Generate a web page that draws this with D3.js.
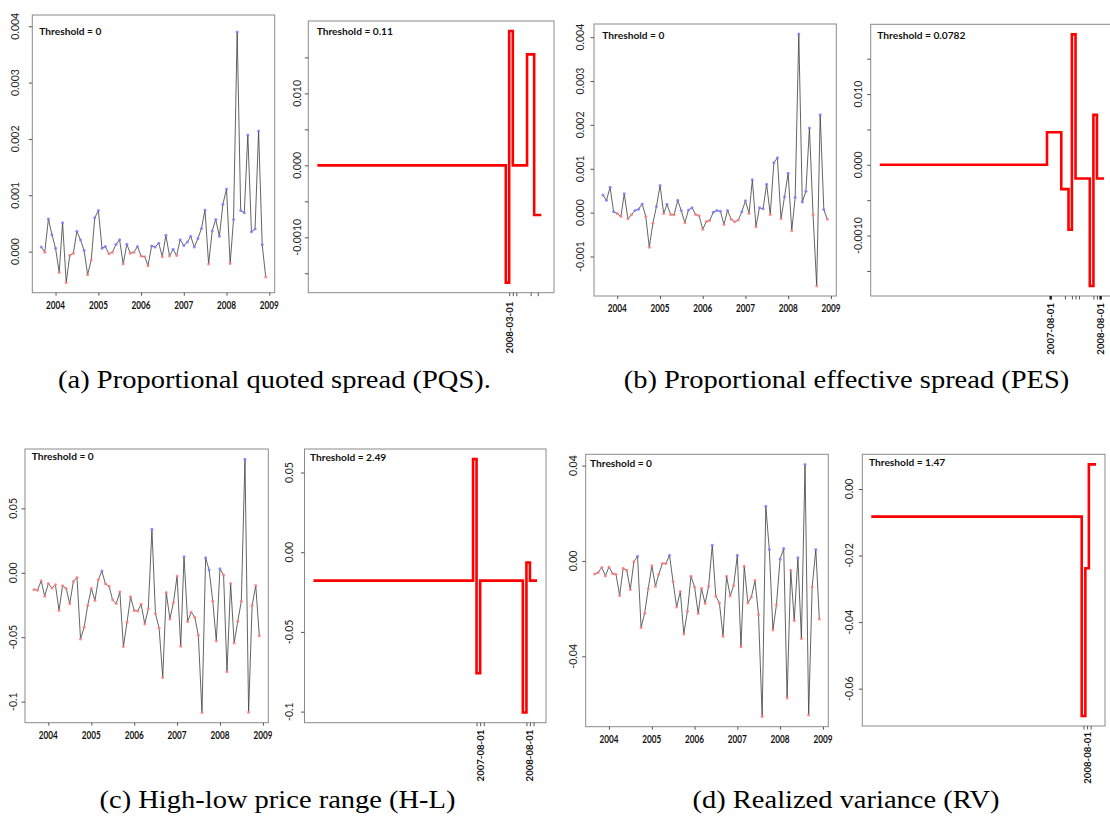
<!DOCTYPE html>
<html lang="en">
<head>
    <meta charset="UTF-8">
    <title>Threshold break charts</title>
    <script src="https://d3js.org/d3.v7.min.js"></script>
    <style>
        body { margin: 0; background: #fff; }
        .tick line { stroke: #555; }
        .tick text { display: none; }
        .thr { font-family: Lato, sans-serif; font-weight: bold; font-size: 10.2px; fill: #111; }
        .ylab { font-family: Lato, sans-serif; font-size: 10.5px; fill: #222; }
        .year { font-family: Lato, sans-serif; font-weight: bold; font-size: 10.5px; fill: #111; }
        .dlab { font-family: Lato, sans-serif; font-weight: bold; font-size: 9.6px; fill: #111; }
        .caption { font-family: "Liberation Serif", serif; font-size: 25px; fill: #000; }
    </style>
</head>
<body>
<script>
    // monthly observations, 2003-09 .. 2008-12
    var seriesStart = "2003-09-01", seriesEnd = "2008-12-01";

    var pqs = [0.00008, -0.00001, 0.00058, 0.00030, 0.00006, -0.00037, 0.00051, -0.00055, -0.00007, -0.00003,
        0.00036, 0.00021, 0.00002, -0.00041, -0.00015, 0.00060, 0.00073, 0.00006, 0.00009, -0.00004,
        -0.00001, 0.00013, 0.00021, -0.00022, 0.00013, -0.00003, -0.00001, 0.00009, -0.00008, -0.00009,
        -0.00025, 0.00010, 0.00008, 0.00015, -0.00009, 0.00029, -0.00008, 0.00004, -0.00007, 0.00021,
        0.00011, 0.00017, 0.00027, 0.00008, 0.00023, 0.00041, 0.00074, -0.00022, 0.00037, 0.00057,
        0.00027, 0.00084, 0.00111, -0.00021, 0.00057, 0.00390, 0.00073, 0.00069, 0.00207, 0.00035,
        0.00040, 0.00214, 0.00012, -0.00045];
    var pes = [0.00040, 0.00028, 0.00058, 0.00002, -0.00002, -0.00009, 0.00043, -0.00014, -0.00005, 0.00005,
        0.00008, 0.00020, -0.00009, -0.00079, -0.00024, 0.00014, 0.00062, -0.00002, 0.00019, -0.00004,
        -0.00005, 0.00028, 0.00005, -0.00023, 0.00006, 0.00011, -0.00004, -0.00007, -0.00038, -0.00020,
        -0.00018, 0.00001, 0.00005, 0.00003, -0.00027, 0.00005, -0.00015, -0.00021, -0.00017, 0.00002,
        0.00027, -0.00002, 0.00075, -0.00032, 0.00011, 0.00009, 0.00065, -0.00004, 0.00114, 0.00125,
        -0.00014, 0.00036, 0.00090, -0.00041, 0.00035, 0.00407, 0.00024, 0.00049, 0.00193, -0.00005,
        -0.00167, 0.00223, 0.00007, -0.00015];
    var hl = [-0.0130, -0.0135, -0.0062, -0.0182, -0.0083, -0.0119, -0.0093, -0.0293, -0.0101, -0.0122,
        -0.0241, -0.0068, -0.0036, -0.0514, -0.0423, -0.0254, -0.0122, -0.0215, -0.0055, 0.0013,
        -0.0086, -0.0104, -0.0210, -0.0239, -0.0148, -0.0573, -0.0384, -0.0187, -0.0293, -0.0296,
        -0.0244, -0.0397, -0.0280, 0.0337, -0.0319, -0.0428, -0.0812, -0.0153, -0.0358, -0.0231,
        -0.0026, -0.0571, 0.0125, -0.0379, -0.0306, -0.0345, -0.0485, -0.1085, 0.0117, 0.0021,
        -0.0221, -0.0529, 0.0031, -0.0018, -0.0768, -0.0083, -0.0545, -0.0376, -0.0221, 0.0882,
        -0.1082, -0.0254, -0.0099, -0.0488];
    var rv = [-0.0055, -0.0048, -0.0027, -0.0063, -0.0025, -0.0053, -0.0056, -0.0145, -0.0031, -0.0039,
        -0.0120, -0.0003, 0.0020, -0.0279, -0.0219, -0.0117, -0.0020, -0.0106, -0.0056, -0.0011,
        -0.0011, 0.0024, -0.0087, -0.0193, -0.0128, -0.0306, -0.0211, -0.0064, -0.0109, -0.0221,
        -0.0115, -0.0179, -0.0106, 0.0066, -0.0148, -0.0176, -0.0316, -0.0064, -0.0147, -0.0103,
        0.0024, -0.0360, -0.0022, -0.0176, -0.0151, -0.0082, -0.0225, -0.0653, 0.0229, 0.0048,
        -0.0290, -0.0184, 0.0008, 0.0052, -0.0575, -0.0039, -0.0250, 0.0013, -0.0325, 0.0405,
        -0.0646, -0.0109, 0.0048, -0.0244];

    // step (regime) estimates: start date of each regime and its level
    var pqsBreakDates = ["2003-09-01", "2008-02-01", "2008-03-01", "2008-04-01", "2008-08-01", "2008-10-01"];
    var pqsBreakValues = [0, -0.0163, 0.01866, 0, 0.01542, -0.0069];
    var pesBreakDates = ["2003-09-01", "2007-08-01", "2007-12-01", "2008-02-01", "2008-03-01", "2008-04-01", "2008-08-01", "2008-09-01", "2008-10-01"];
    var pesBreakValues = [0, 0.00461, -0.00343, -0.00917, 0.01844, -0.00193, -0.01712, 0.00706, -0.00193];
    var hlBreakDates = ["2003-09-01", "2007-06-01", "2007-07-01", "2007-08-01", "2008-08-01", "2008-09-01", "2008-10-01"];
    var hlBreakValues = [-0.0178, 0.0584, -0.0759, -0.0178, -0.1006, -0.0065, -0.0178];
    var rvBreakDates = ["2003-09-01", "2008-08-01", "2008-09-01", "2008-10-01"];
    var rvBreakValues = [-0.0083, -0.0682, -0.0238, 0.0074];

    // x tick marks and labels of the step panels
    var pqsTickDates = ["2008-03-01", "2008-04-01", "2008-05-01", "2008-09-01", "2008-11-01"];
    var pqsLabelDates = ["2008-03-01"], pqsLabelTexts = ["2008-03-01"];
    var pesTickDates = ["2007-09-01", "2008-01-01", "2008-03-01", "2008-04-01", "2008-05-01", "2008-09-01", "2008-10-01", "2008-11-01"];
    var pesLabelDates = ["2007-09-01", "2008-11-01"], pesLabelTexts = ["2007-08-01", "2008-08-01"];
    var hlTickDates = ["2007-07-01", "2007-08-01", "2007-09-01", "2008-09-01", "2008-10-01", "2008-11-01"];
    var hlLabelDates = ["2007-08-01", "2008-10-01"], hlLabelTexts = ["2007-08-01", "2008-08-01"];
    var rvTickDates = ["2008-08-16", "2008-09-16", "2008-10-16"];
    var rvLabelDates = ["2008-09-16"], rvLabelTexts = ["2008-08-01"];

    // y ticks
    var pqsYTicks = [0, 0.001, 0.002, 0.003, 0.004], pqsYLabels = ["0.000", "0.001", "0.002", "0.003", "0.004"];
    var pesYTicks = [-0.001, 0, 0.001, 0.002, 0.003, 0.004], pesYLabels = ["-0.001", "0.000", "0.001", "0.002", "0.003", "0.004"];
    var hlYTicks = [-0.1, -0.05, 0, 0.05], hlYLabels = ["-0.1", "-0.05", "0.00", "0.05"];
    var rvYTicks = [-0.04, 0, 0.04], rvYLabels = ["-0.04", "0.00", "0.04"];
    var stepYTicks = [-0.015, -0.01, -0.005, 0, 0.005, 0.01, 0.015], stepYLabels = ["", "-0.0010", "", "0.000", "", "0.010", ""];
    var rvStepYTicks = [-0.06, -0.04, -0.02, 0], rvStepYLabels = ["-0.06", "-0.04", "-0.02", "0.00"];

    var yearTicks = ["2004", "2005", "2006", "2007", "2008", "2009"];
    var thresholds = ["Threshold = 0", "Threshold = 0.11", "Threshold = 0", "Threshold = 0.0782",
                      "Threshold = 0", "Threshold = 2.49", "Threshold = 0", "Threshold = 1.47"];
    var captions = ["(a) Proportional quoted spread (PQS).", "(b) Proportional effective spread (PES)",
                    "(c) High-low price range (H-L)", "(d) Realized variance (RV)"];

    var parse = d3.timeParse("%Y-%m-%d");
    var months = d3.timeMonth.range(parse(seriesStart), d3.timeMonth.offset(parse(seriesEnd), 1));

    var svg = d3.select("body").append("svg")
        .attr("width", 1110)
        .attr("height", 832);

    var defs = svg.append("defs");
    defs.append("clipPath").attr("id", "clipC").append("rect")
        .attr("x", 0).attr("y", 430).attr("width", 272.5).attr("height", 402);

    // R style 4% padding
    function pad(lo, hi) {
        var r = hi - lo;
        return [lo - 0.04 * r, hi + 0.04 * r];
    }

    function drawPanel(p) {
        var x0 = p.box[0], y0 = p.box[1], x1 = p.box[2], y1 = p.box[3];
        var g = svg.append("g");
        if (p.clip) g.attr("clip-path", "url(#" + p.clip + ")");

        var t = pad(+parse(seriesStart), +parse(p.xEnd || seriesEnd));
        var x = d3.scaleTime().domain([new Date(t[0]), new Date(t[1])]).range([x0, x1]);

        var vals = p.values || p.stepValues;
        var y = d3.scaleLinear().domain(p.ylim || pad(d3.min(vals), d3.max(vals))).range([y1, y0]);

        g.append("rect")
            .attr("x", x0).attr("y", y0)
            .attr("width", x1 - x0).attr("height", y1 - y0)
            .attr("fill", "none").attr("stroke", "#8a8a8a").attr("stroke-width", 1);

        // y axis
        var ya = g.append("g").attr("transform", "translate(" + x0 + ",0)")
            .call(d3.axisLeft(y).tickValues(p.yTicks).tickSize(3.5));
        ya.select(".domain").remove();
        p.yTicks.forEach(function(v, i) {
            if (!p.yLabels[i]) return;
            var lx = x0 - p.yGap, ly = y(v);
            g.append("text").attr("class", "ylab")
                .attr("x", lx).attr("y", ly)
                .attr("text-anchor", "middle")
                .attr("transform", "rotate(-90," + lx + "," + ly + ")")
                .text(p.yLabels[i]);
        });

        g.append("text").attr("class", "thr")
            .attr("x", x0 + p.thr[0]).attr("y", y0 + p.thr[1])
            .text(p.threshold);

        if (p.values) {
            var data = p.values.map(function(v, i) { return {date: months[i], v: v}; });
            var years = yearTicks.map(function(s) { return parse(s + "-01-01"); });
            var xa = g.append("g").attr("transform", "translate(0," + y1 + ")")
                .call(d3.axisBottom(x).tickValues(years).tickSize(3));
            xa.select(".domain").remove();
            years.forEach(function(d, i) {
                g.append("text").attr("class", "year")
                    .attr("text-anchor", "middle")
                    .attr("transform", "translate(" + x(d) + "," + (y1 + 16) + ") scale(0.78,1)")
                    .text(yearTicks[i]);
            });

            var line = d3.line()
                .x(function(d) { return x(d.date); })
                .y(function(d) { return y(d.v); });
            g.append("path").datum(data)
                .attr("d", line)
                .attr("fill", "none").attr("stroke", "#3c3c3c").attr("stroke-width", 0.8);
            g.selectAll("circle.pt").data(data).enter().append("circle")
                .attr("class", "pt")
                .attr("cx", function(d) { return x(d.date); })
                .attr("cy", function(d) { return y(d.v); })
                .attr("r", 1.5)
                .attr("fill", function(d) { return d.v > 0 ? "#7d7dff" : "#ff7d7d"; })
                .attr("opacity", 0.85);
        } else {
            var steps = p.stepDates.map(function(s, i) { return {date: parse(s), v: p.stepValues[i]}; });
            steps.push({date: parse(seriesEnd), v: p.stepValues[p.stepValues.length - 1]});
            var ticks = p.tickDates.map(parse);
            var xa = g.append("g").attr("transform", "translate(0," + y1 + ")")
                .call(d3.axisBottom(x).tickValues(ticks).tickSize(3.5));
            xa.select(".domain").remove();
            p.labelDates.forEach(function(s, i) {
                var lx = x(parse(s)) + 3.4, ly = y1 + p.xGap;
                if (p.boldTicks) {
                    g.append("line").attr("x1", x(parse(s))).attr("x2", x(parse(s)))
                        .attr("y1", y1).attr("y2", y1 + 3.5)
                        .attr("stroke", "#111").attr("stroke-width", 2.2);
                }
                g.append("text").attr("class", "dlab")
                    .attr("x", lx).attr("y", ly)
                    .attr("text-anchor", "end")
                    .attr("transform", "rotate(-90," + lx + "," + ly + ")")
                    .text(p.labelTexts[i]);
            });

            var step = d3.line().curve(d3.curveStepAfter)
                .x(function(d) { return x(d.date); })
                .y(function(d) { return y(d.v); });
            g.append("path").datum(steps)
                .attr("d", step)
                .attr("fill", "none").attr("stroke", "#ff0000").attr("stroke-width", 2.6);
        }
    }

    var panels = [
        {values: pqs, box: [32.3, 15, 274.7, 292.7], ylim: [-0.00073, 0.0042], yTicks: pqsYTicks, yLabels: pqsYLabels, yGap: 13, threshold: thresholds[0], thr: [7, 19.5]},
        {stepDates: pqsBreakDates, stepValues: pqsBreakValues, xEnd: "2009-01-01", box: [308.3, 21, 554, 292.7], yTicks: stepYTicks, yLabels: stepYLabels, yGap: 7.5,
            tickDates: pqsTickDates, labelDates: pqsLabelDates, labelTexts: pqsLabelTexts, xGap: 9, threshold: thresholds[1], thr: [8.4, 13.5]},
        {values: pes, box: [594, 24, 836.3, 296], yTicks: pesYTicks, yLabels: pesYLabels, yGap: 10, threshold: thresholds[2], thr: [8.3, 14.5]},
        {stepDates: pesBreakDates, stepValues: pesBreakValues, xEnd: "2009-01-01", box: [870.7, 24.3, 1116.8, 296], yTicks: stepYTicks, yLabels: stepYLabels, yGap: 9,
            tickDates: pesTickDates, labelDates: pesLabelDates, labelTexts: pesLabelTexts, xGap: 7, boldTicks: true, threshold: thresholds[3], thr: [6.6, 14.2]},
        {values: hl, box: [25, 449, 268.3, 722.7], clip: "clipC", yTicks: hlYTicks, yLabels: hlYLabels, yGap: 8.3, threshold: thresholds[4], thr: [6.7, 11.2]},
        {stepDates: hlBreakDates, stepValues: hlBreakValues, box: [304.5, 449, 546, 722.7], yTicks: hlYTicks, yLabels: hlYLabels, yGap: 11,
            tickDates: hlTickDates, labelDates: hlLabelDates, labelTexts: hlLabelTexts, xGap: 7, threshold: thresholds[5], thr: [5.5, 12.2]},
        {values: rv, box: [585.7, 454.3, 828.3, 726.7], yTicks: rvYTicks, yLabels: rvYLabels, yGap: 8.4, threshold: thresholds[6], thr: [4.3, 12.5]},
        {stepDates: rvBreakDates, stepValues: rvBreakValues, box: [862.3, 454.3, 1105, 726], yTicks: rvStepYTicks, yLabels: rvStepYLabels, yGap: 9,
            tickDates: rvTickDates, labelDates: rvLabelDates, labelTexts: rvLabelTexts, xGap: 6, threshold: thresholds[7], thr: [6.7, 11.9]}
    ];
    panels.forEach(drawPanel);

    // sub-figure captions (stretched to mimic the wider Computer Modern face)
    var capPos = [[274.5, 388], [846.5, 388], [277.5, 808], [846, 808]];
    captions.forEach(function(c, i) {
        svg.append("text").attr("class", "caption")
            .attr("text-anchor", "middle")
            .attr("transform", "translate(" + capPos[i][0] + "," + capPos[i][1] + ") scale(1.14,1)")
            .text(c);
    });
</script>
</body>
</html>
